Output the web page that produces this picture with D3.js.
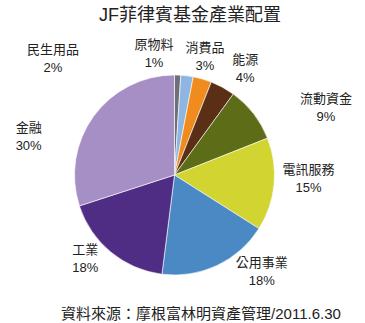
<!DOCTYPE html>
<html>
<head>
<meta charset="utf-8">
<script src="https://cdn.jsdelivr.net/npm/d3@7"></script>
<style>
  html, body { margin: 0; padding: 0; background: #fff; }
  text { font-family: "Liberation Sans", Arial, "Noto Sans CJK TC", sans-serif; fill: #222; }
</style>
</head>
<body>
<div id="chart"></div>
<script>
var width = 365;
var height = 323;

// data, clockwise from 12 o'clock
var sectors = ['原物料', '民生用品', '消費品', '能源', '流動資金', '電訊服務', '公用事業', '工業', '金融'];
var shares = [1, 2, 3, 4, 9, 15, 18, 18, 30];
var colors = ['#6f6f78', '#8fb6e3', '#f08c1e', '#5b2e16', '#5c6c17', '#d2d431', '#4b89c5', '#4f2d84', '#a68fc4'];

var titleText = 'JF菲律賓基金產業配置';
var sourceText = '資料來源：摩根富林明資產管理/2011.6.30';

// where each label sits around the pie: [angle in degrees from top, distance from centre]
var labelPolar = [[-9.5, 124], [-46, 169], [14.3, 123], [33.5, 128], [65.8, 166], [91.3, 134], [137.8, 130], [227, 122], [-75, 151]];

var cx = 174.5;
var cy = 175;
var radius = 100;

var svg = d3.select('#chart')
    .append('svg')
    .attr('width', width)
    .attr('height', height);

svg.append('text')
    .attr('x', 190)
    .attr('y', 21)
    .attr('text-anchor', 'middle')
    .style('font-size', '18px')
    .text(titleText);

var pie = d3.pie()
    .sort(null)
    .value(function (d) { return d; });

var arc = d3.arc()
    .innerRadius(0)
    .outerRadius(radius);

var g = svg.append('g')
    .attr('transform', 'translate(' + cx + ',' + cy + ')');

g.selectAll('path')
    .data(pie(shares))
    .enter()
    .append('path')
    .attr('d', arc)
    .style('fill', function (d, i) { return colors[i]; })
    .style('stroke', '#fff')
    .style('stroke-width', 0.6);

labelPolar.forEach(function (p, i) {
    var a = p[0] * Math.PI / 180;
    var pos = d3.arc().innerRadius(p[1]).outerRadius(p[1]).startAngle(a).endAngle(a).centroid();
    var t = g.append('text')
        .attr('text-anchor', 'middle')
        .attr('transform', 'translate(' + pos[0] + ',' + pos[1] + ')')
        .style('font-size', '13px');
    t.append('tspan')
        .attr('x', 0)
        .attr('y', -4)
        .text(sectors[i]);
    t.append('tspan')
        .attr('x', 0)
        .attr('y', 14)
        .text(shares[i] + '%');
});

svg.append('text')
    .attr('x', 201)
    .attr('y', 319)
    .attr('text-anchor', 'middle')
    .style('font-size', '15px')
    .text(sourceText);
</script>
</body>
</html>
